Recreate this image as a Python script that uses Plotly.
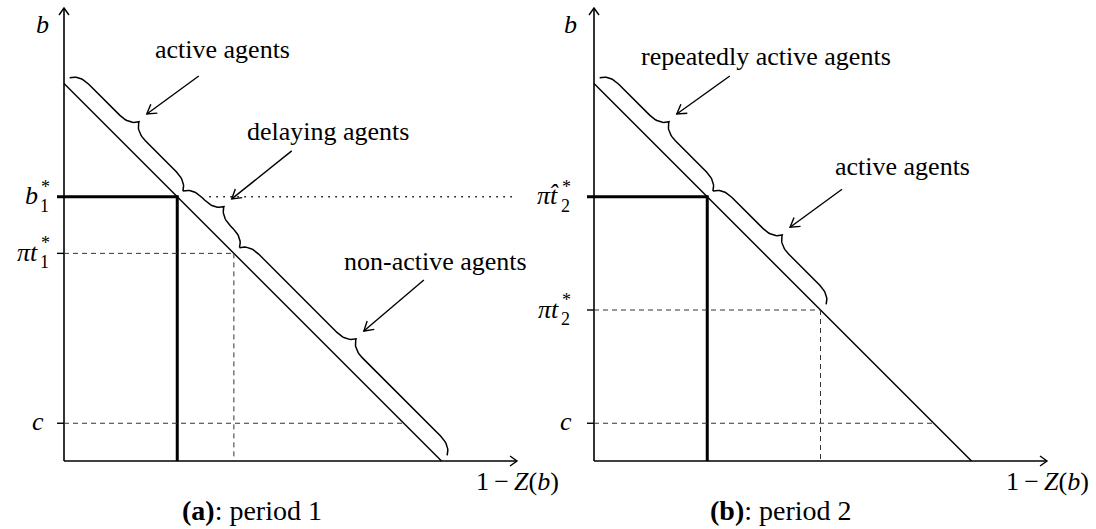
import math
import plotly.graph_objects as go

# ---------------- data (diagram values, axis units) ----------------
schedule_x = [0.0, 1.0]            # 1 - Z(b) at the two ends of the schedule line
schedule_y = [1.0, 0.0]            # b at the two ends
axis_end = 1.2                     # where the axis arrows end
p1_levels = [0.70, 0.55, 0.10]     # b1*, pi t1*, c
p2_levels = [0.70, 0.40, 0.10]     # pi t^2*, pi t2*, c
p1_tick_main = ["b", "πt", "c"]
p1_tick_sup = ["*", "*", ""]
p1_tick_sub = ["1", "1", ""]
p2_tick_main = ["πt\u0302", "πt", "c"]
p2_tick_sup = ["*", "*", ""]
p2_tick_sub = ["2", "2", ""]
p1_brace_labels = ["active agents", "delaying agents", "non-active agents"]
p2_brace_labels = ["repeatedly active agents", "active agents"]
captions = ["<b>(a)</b>: period 1", "<b>(b)</b>: period 2"]
y_title = "<i>b</i>"
x_title = "1\u2009−\u2009<i>Z</i>(<i>b</i>)"

# ---------------- layout constants (pixels) ----------------
W, H = 1096, 529
PX = 377.5                     # pixels per axis unit
ORIGIN_X = [64, 594]           # pixel x of each panel's origin
ORIGIN_Y = 461
FONT = "Liberation Serif, Times New Roman, serif"
FS = 26
SFS = 18
BLACK = "#000000"

XREF = ["x", "x2"]
YREF = ["y", "y2"]


def to_data(panel, px, py):
    return (px - ORIGIN_X[panel]) / PX, (ORIGIN_Y - py) / PX


fig = go.Figure()


def add_line(panel, xs, ys, width=1.4, dash="solid", color=BLACK):
    fig.add_trace(go.Scatter(
        x=xs, y=ys, mode="lines", xaxis=XREF[panel], yaxis=YREF[panel],
        line=dict(color=color, width=width, dash=dash),
        hoverinfo="skip", showlegend=False))


def add_vhead(panel, tip, direction, length, half):
    dx, dy = direction
    n = math.hypot(dx, dy)
    dx, dy = dx / n, dy / n
    px, py = -dy, dx
    L, Hh = length / PX, half / PX
    a = (tip[0] - L * dx + Hh * px, tip[1] - L * dy + Hh * py)
    b = (tip[0] - L * dx - Hh * px, tip[1] - L * dy - Hh * py)
    add_line(panel, [a[0], tip[0], b[0]], [a[1], tip[1], b[1]], width=1.4)


def bez(p0, p1, p2, p3, n=14):
    pts = []
    for i in range(n + 1):
        t = i / n
        mt = 1 - t
        pts.append((mt**3 * p0[0] + 3 * mt**2 * t * p1[0] + 3 * mt * t**2 * p2[0] + t**3 * p3[0],
                    mt**3 * p0[1] + 3 * mt**2 * t * p1[1] + 3 * mt * t**2 * p2[1] + t**3 * p3[1]))
    return pts


def brace(panel, p0, p1, amp_px=18, raise_px=8):
    ux, uy = p1[0] - p0[0], p1[1] - p0[1]
    L = math.hypot(ux, uy)
    ux, uy = ux / L, uy / L
    nx, ny = -uy, ux            # normal, points up-right
    a = amp_px / PX
    r = raise_px / PX
    m = L / 2
    loc = []
    loc += bez((0, 0), (.15 * a, .3 * a), (.5 * a, .5 * a), (a, .5 * a))
    loc += bez((m - a, .5 * a), (m - .5 * a, .5 * a), (m - .15 * a, .7 * a), (m, a))
    loc += bez((m, a), (m + .15 * a, .7 * a), (m + .5 * a, .5 * a), (m + a, .5 * a))
    loc += bez((L - a, .5 * a), (L - .5 * a, .5 * a), (L - .15 * a, .3 * a), (L, 0))
    xs = [p0[0] + s * ux + (h + r) * nx for s, h in loc]
    ys = [p0[1] + s * uy + (h + r) * ny for s, h in loc]
    add_line(panel, xs, ys, width=1.5)
    tip = (p0[0] + m * ux + (a + r) * nx, p0[1] + m * uy + (a + r) * ny)
    return tip, (nx, ny)


def add_text(panel, px, py, text, size=FS, xanchor="center", yanchor="middle"):
    x, y = to_data(panel, px, py)
    fig.add_annotation(x=x, y=y, xref=XREF[panel], yref=YREF[panel], text=text,
                       showarrow=False, xanchor=xanchor, yanchor=yanchor, borderpad=0,
                       font=dict(family=FONT, size=size, color=BLACK))


tick_len = 7 / PX

panels = [
    dict(levels=p1_levels, main=p1_tick_main, sup=p1_tick_sup, sub=p1_tick_sub,
         labels=p1_brace_labels, dotted=True,
         label_px=[(222, 49), (328, 131), (435, 261)],
         tail_px=[(52, 38), (60, 48), (60, 51)],
         script_left=24, plain_right=19, b_px=(42, 24)),
    dict(levels=p2_levels, main=p2_tick_main, sup=p2_tick_sup, sub=p2_tick_sub,
         labels=p2_brace_labels, dotted=False,
         label_px=[(766, 56), (902, 166)],
         tail_px=[(53, 38), (52, 38)],
         script_left=33, plain_right=21, b_px=(570, 24)),
]

for k, P in enumerate(panels):
    thr, cut, cst = P["levels"]
    # axes
    add_line(k, [0, axis_end], [0, 0], width=1.6)
    add_line(k, [0, 0], [0, axis_end], width=1.6)
    add_vhead(k, (axis_end, 0), (1, 0), 7, 5)
    add_vhead(k, (0, axis_end), (0, 1), 7, 5)
    # schedule line
    add_line(k, schedule_x, schedule_y, width=1.4)
    # thick threshold lines
    add_line(k, [-tick_len, 1 - thr, 1 - thr], [thr, thr, 0], width=3)
    # dashed cutoff
    add_line(k, [0, 1 - cut], [cut, cut], width=1, dash="5px,4px", color="#333333")
    add_line(k, [1 - cut, 1 - cut], [cut, 0], width=1, dash="5px,4px", color="#333333")
    add_line(k, [0, 1 - cst], [cst, cst], width=1, dash="5px,4px", color="#333333")
    add_line(k, [-tick_len, 0], [cut, cut], width=1.4)
    add_line(k, [-tick_len, 0], [cst, cst], width=1.4)
    if P["dotted"]:
        add_line(k, [1 - thr + 0.085, axis_end], [thr, thr], width=1.5, dash="1.5px,5.5px")

    # braces along the schedule
    pts = [(schedule_x[0], schedule_y[0]), (1 - thr, thr), (1 - cut, cut), (schedule_x[1], schedule_y[1])]
    for j, lab in enumerate(P["labels"]):
        tip, nrm = brace(k, pts[j], pts[j + 1])
        atip = (tip[0] + 11 / PX * nrm[0], tip[1] + 11 / PX * nrm[1])
        tdx, tdy = P["tail_px"][j]
        tail = (atip[0] + tdx / PX, atip[1] + tdy / PX)
        add_line(k, [tail[0], atip[0]], [tail[1], atip[1]], width=1.4)
        add_vhead(k, atip, (atip[0] - tail[0], atip[1] - tail[1]), 9, 5.5)
        lx, ly = P["label_px"][j]
        add_text(k, lx, ly, lab)

    # y tick labels
    ox = ORIGIN_X[k]
    for lev, mn, sp, sb in zip(P["levels"], P["main"], P["sup"], P["sub"]):
        py = ORIGIN_Y - lev * PX
        if sp or sb:
            xs = ox - P["script_left"]
            add_text(k, xs - 1, py - 1, "<i>" + mn + "</i>", xanchor="right")
            add_text(k, xs, py - 10, sp, size=SFS, xanchor="left")
            add_text(k, xs - 1, py + 9, sb, size=SFS, xanchor="left")
        else:
            add_text(k, ox - P["plain_right"], py - 2, "<i>" + mn + "</i>", xanchor="right")
    add_text(k, P["b_px"][0], P["b_px"][1], y_title)
    add_text(k, ox + axis_end * PX, 481, x_title)
    add_text(k, [252, 781][k], 510, captions[k], size=28)

yr = [(ORIGIN_Y - H) / PX, ORIGIN_Y / PX]
axis_common = dict(visible=False, fixedrange=True, showgrid=False, zeroline=False)
fig.update_layout(
    width=W, height=H, autosize=False,
    margin=dict(l=0, r=0, t=0, b=0, pad=0),
    paper_bgcolor="white", plot_bgcolor="white",
    xaxis=dict(domain=[0, 0.5], range=[(0 - ORIGIN_X[0]) / PX, (548 - ORIGIN_X[0]) / PX], anchor="y", **axis_common),
    yaxis=dict(domain=[0, 1], range=yr, anchor="x", **axis_common),
    xaxis2=dict(domain=[0.5, 1], range=[(548 - ORIGIN_X[1]) / PX, (1096 - ORIGIN_X[1]) / PX], anchor="y2", **axis_common),
    yaxis2=dict(domain=[0, 1], range=yr, anchor="x2", **axis_common),
    showlegend=False,
)

fig.write_html("out.html", config={"displayModeBar": False, "staticPlot": True},
               post_script="document.body.style.margin='0';document.body.style.overflow='hidden';")
